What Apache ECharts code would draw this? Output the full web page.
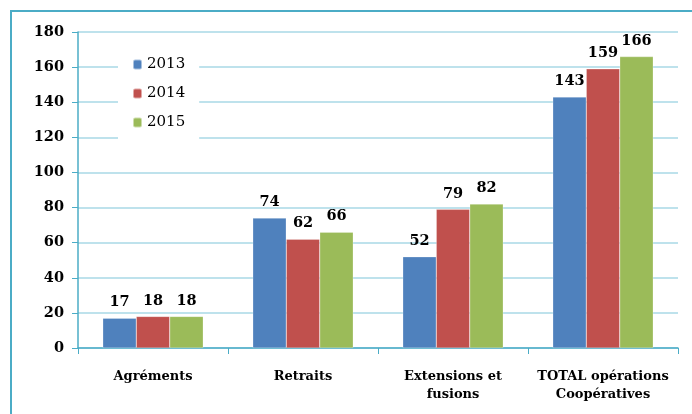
<!DOCTYPE html>
<html>
<head>
<meta charset="utf-8">
<script src="https://cdn.jsdelivr.net/npm/echarts@6/dist/echarts.min.js"></script>
<style>
  html, body { margin: 0; padding: 0; background: #fff; }
  #frame { position: absolute; left: 10px; top: 10px; width: 700px; height: 420px; border: 2px solid #4bacc6; box-sizing: border-box; }
  #chart { position: absolute; left: 0; top: 0; width: 692px; height: 414px; }
</style>
</head>
<body>
<div id="frame"></div>
<div id="chart"></div>
<script>
// catégories et valeurs
const categories = ['Agréments', 'Retraits', 'Extensions et\nfusions', 'TOTAL opérations\nCoopératives']
const years = ['2013', '2014', '2015']
const values2013 = [17, 74, 52, 143]
const values2014 = [18, 62, 79, 159]
const values2015 = [18, 66, 82, 166]
const colors = ['#4f81bd', '#c0504d', '#9bbb59']

const serif = 'DejaVu Serif'
const chart = echarts.init(document.getElementById('chart'))

const mkSeries = (name, data, i) => ({
  name, type: 'bar', data,
  barGap: 0, barCategoryGap: '33%',
  itemStyle: { color: colors[i], borderColor: 'rgba(255,255,255,0.5)', borderWidth: 0.5 },
  label: { show: true, position: 'top', distance: 8, color: '#000', fontFamily: serif, fontWeight: 'bold', fontSize: 14.5 }
})

chart.setOption({
  animation: false,
  grid: { left: 78, right: 14, top: 32, bottom: 66 },
  legend: {
    orient: 'vertical', left: 118, top: 46,
    padding: [11, 14, 12, 14],
    backgroundColor: '#fff',
    itemWidth: 9, itemHeight: 10, itemGap: 14,
    textStyle: { fontFamily: serif, fontSize: 15, color: '#000' },
    data: years
  },
  xAxis: {
    type: 'category', data: categories,
    axisLine: { lineStyle: { color: '#4bacc6', width: 1.5 } },
    axisTick: { show: true, length: 6, lineStyle: { color: '#4bacc6' } },
    axisLabel: { interval: 0, color: '#000', fontFamily: serif, fontWeight: 'bold', fontSize: 13, margin: 20, lineHeight: 18 }
  },
  yAxis: {
    type: 'value', min: 0, max: 180, interval: 20,
    axisLine: { show: true, lineStyle: { color: '#4bacc6', width: 1.5 } },
    axisTick: { show: true, length: 6, lineStyle: { color: '#4bacc6' } },
    splitLine: { lineStyle: { color: '#a8d8e6', width: 1.5 } },
    axisLabel: { color: '#000', fontFamily: serif, fontWeight: 'bold', fontSize: 14.5, margin: 14 }
  },
  series: [
    mkSeries(years[0], values2013, 0),
    mkSeries(years[1], values2014, 1),
    mkSeries(years[2], values2015, 2)
  ]
})
</script>
</body>
</html>
